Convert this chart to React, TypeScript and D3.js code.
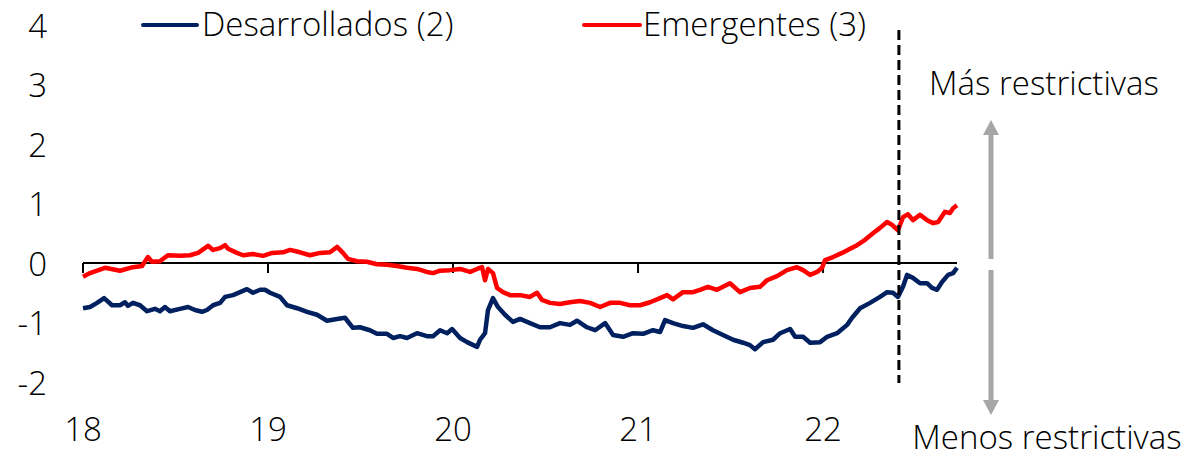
import * as d3 from 'd3';

// x positions are decimal years (18 = Jan 2018)
const desarrolladosT = [18.0, 18.038, 18.076, 18.114, 18.157, 18.2, 18.227, 18.243, 18.27, 18.308, 18.346, 18.389, 18.416, 18.443, 18.47, 18.524, 18.568, 18.605, 18.643, 18.67, 18.703, 18.741, 18.768, 18.811, 18.849, 18.886, 18.919, 18.957, 18.984, 19.011, 19.065, 19.103, 19.157, 19.211, 19.265, 19.319, 19.373, 19.416, 19.459, 19.497, 19.551, 19.589, 19.643, 19.676, 19.714, 19.751, 19.805, 19.859, 19.892, 19.93, 19.968, 19.995, 20.038, 20.076, 20.13, 20.146, 20.173, 20.189, 20.216, 20.243, 20.281, 20.324, 20.362, 20.416, 20.47, 20.524, 20.578, 20.632, 20.67, 20.724, 20.768, 20.822, 20.865, 20.919, 20.973, 21.027, 21.081, 21.119, 21.146, 21.189, 21.243, 21.297, 21.351, 21.405, 21.459, 21.514, 21.568, 21.605, 21.632, 21.676, 21.73, 21.768, 21.822, 21.849, 21.892, 21.93, 21.984, 22.022, 22.076, 22.13, 22.157, 22.2, 22.254, 22.308, 22.346, 22.378, 22.405, 22.432, 22.454, 22.486, 22.524, 22.562, 22.589, 22.616, 22.643, 22.676, 22.703, 22.724];
const desarrolladosV = [-0.76, -0.74, -0.67, -0.59, -0.71, -0.71, -0.66, -0.72, -0.67, -0.71, -0.81, -0.77, -0.81, -0.74, -0.81, -0.77, -0.74, -0.79, -0.82, -0.79, -0.71, -0.67, -0.57, -0.54, -0.49, -0.44, -0.5, -0.45, -0.45, -0.5, -0.57, -0.71, -0.76, -0.82, -0.87, -0.97, -0.94, -0.92, -1.09, -1.08, -1.13, -1.19, -1.19, -1.26, -1.23, -1.26, -1.18, -1.23, -1.23, -1.13, -1.18, -1.11, -1.26, -1.33, -1.41, -1.29, -1.18, -0.79, -0.59, -0.74, -0.87, -0.99, -0.94, -1.01, -1.08, -1.08, -1.01, -1.04, -0.97, -1.08, -1.13, -1.01, -1.21, -1.24, -1.18, -1.19, -1.13, -1.16, -0.96, -1.01, -1.06, -1.09, -1.03, -1.13, -1.21, -1.29, -1.34, -1.38, -1.45, -1.33, -1.29, -1.18, -1.11, -1.24, -1.24, -1.34, -1.33, -1.24, -1.18, -1.04, -0.92, -0.76, -0.67, -0.57, -0.49, -0.5, -0.57, -0.4, -0.2, -0.25, -0.34, -0.34, -0.42, -0.45, -0.32, -0.2, -0.17, -0.08];

const emergentesT = [18.0, 18.038, 18.119, 18.2, 18.27, 18.319, 18.351, 18.373, 18.416, 18.459, 18.524, 18.578, 18.622, 18.659, 18.676, 18.703, 18.741, 18.768, 18.784, 18.832, 18.865, 18.919, 18.973, 19.022, 19.081, 19.119, 19.173, 19.227, 19.281, 19.335, 19.373, 19.405, 19.432, 19.481, 19.535, 19.589, 19.643, 19.697, 19.751, 19.805, 19.859, 19.892, 19.93, 19.984, 20.038, 20.092, 20.13, 20.157, 20.173, 20.189, 20.216, 20.238, 20.27, 20.308, 20.362, 20.416, 20.454, 20.481, 20.524, 20.578, 20.632, 20.686, 20.741, 20.795, 20.849, 20.903, 20.957, 21.011, 21.065, 21.119, 21.157, 21.189, 21.243, 21.297, 21.335, 21.378, 21.427, 21.497, 21.551, 21.605, 21.659, 21.697, 21.751, 21.805, 21.859, 21.892, 21.93, 21.968, 21.995, 22.011, 22.054, 22.103, 22.146, 22.184, 22.227, 22.27, 22.308, 22.346, 22.373, 22.405, 22.432, 22.459, 22.486, 22.524, 22.562, 22.595, 22.622, 22.659, 22.686, 22.703, 22.724];
const emergentesV = [-0.23, -0.17, -0.08, -0.13, -0.07, -0.05, 0.1, 0.02, 0.03, 0.13, 0.12, 0.13, 0.17, 0.25, 0.29, 0.22, 0.25, 0.3, 0.24, 0.17, 0.13, 0.15, 0.12, 0.17, 0.18, 0.22, 0.18, 0.13, 0.17, 0.18, 0.27, 0.17, 0.07, 0.03, 0.02, -0.02, -0.03, -0.05, -0.08, -0.1, -0.15, -0.17, -0.13, -0.12, -0.1, -0.15, -0.1, -0.07, -0.29, -0.1, -0.17, -0.42, -0.49, -0.54, -0.54, -0.57, -0.5, -0.62, -0.67, -0.69, -0.66, -0.64, -0.67, -0.74, -0.67, -0.67, -0.71, -0.71, -0.66, -0.59, -0.54, -0.61, -0.49, -0.49, -0.45, -0.4, -0.45, -0.34, -0.49, -0.42, -0.4, -0.29, -0.22, -0.12, -0.07, -0.12, -0.2, -0.15, -0.08, 0.05, 0.1, 0.17, 0.24, 0.3, 0.39, 0.5, 0.59, 0.69, 0.64, 0.55, 0.77, 0.82, 0.72, 0.81, 0.72, 0.67, 0.69, 0.86, 0.84, 0.92, 0.97];

const yearTicks = [18, 19, 20, 21, 22];
const yTicks = [4, 3, 2, 1, 0, -1, -2];
const markerDate = 22.41;

const font = '"Open Sans", sans-serif';
const fs = 33;

const App = () => {
  const x = d3.scaleLinear().domain([18, 22.724]).range([83, 957]);
  const y = d3.scaleLinear().domain([-2, 4]).range([382, 25]);

  const line = d3.line<[number, number]>()
    .x(d => x(d[0]))
    .y(d => y(d[1]));

  const des = desarrolladosT.map((t, i) => [t, desarrolladosV[i]] as [number, number]);
  const emg = emergentesT.map((t, i) => [t, emergentesV[i]] as [number, number]);

  const grey = '#a6a6a6';
  const arrowX = 991;

  return (
    <svg width={1191} height={458} style={{ position: 'absolute', left: 0, top: 0 }}
      fontFamily={font} fontWeight={300}>
      {/* y labels */}
      {yTicks.map(v => (
        <text key={v} x={47} y={y(v)} textAnchor="end" dominantBaseline="central"
          fontSize={fs} fill="#000">{v}</text>
      ))}
      {/* x labels */}
      {yearTicks.map(t => (
        <text key={t} x={x(t)} y={441} textAnchor="middle" fontSize={fs} fill="#000">{t}</text>
      ))}

      {/* zero axis with ticks */}
      <line x1={x(18)} x2={x(22.724)} y1={y(0)} y2={y(0)} stroke="#000" strokeWidth={2} />
      {yearTicks.map(t => (
        <line key={t} x1={x(t)} x2={x(t)} y1={y(0)} y2={y(0) + 10} stroke="#000" strokeWidth={2} />
      ))}

      {/* series */}
      <path d={line(emg) ?? ''} fill="none" stroke="#ff0000" strokeWidth={4.5} strokeLinejoin="round" />
      <path d={line(des) ?? ''} fill="none" stroke="#002060" strokeWidth={4.5} strokeLinejoin="round" />

      {/* marker */}
      <line x1={x(markerDate)} x2={x(markerDate)} y1={30} y2={383} stroke="#000"
        strokeWidth={3} strokeDasharray="10 5" />

      {/* legend */}
      <line x1={143} x2={197} y1={25} y2={25} stroke="#002060" strokeWidth={4} strokeLinecap="round" />
      <text x={202} y={36} fontSize={fs} fill="#000">Desarrollados (2)</text>
      <line x1={584} x2={640} y1={25} y2={25} stroke="#ff0000" strokeWidth={4} strokeLinecap="round" />
      <text x={643} y={36} fontSize={fs} fill="#000">Emergentes (3)</text>

      {/* arrows */}
      <line x1={arrowX} x2={arrowX} y1={259} y2={134} stroke={grey} strokeWidth={5} />
      <path d={`M${arrowX - 8},${135} L${arrowX},${120} L${arrowX + 8},${135} Z`} fill={grey} />
      <line x1={arrowX} x2={arrowX} y1={270} y2={401} stroke={grey} strokeWidth={5} />
      <path d={`M${arrowX - 8},${400} L${arrowX},${415} L${arrowX + 8},${400} Z`} fill={grey} />

      <text x={1044} y={95} textAnchor="middle" fontSize={fs} fill="#000">Más restrictivas</text>
      <text x={1047} y={449} textAnchor="middle" fontSize={fs} fill="#000">Menos restrictivas</text>
    </svg>
  );
};

export default App;
